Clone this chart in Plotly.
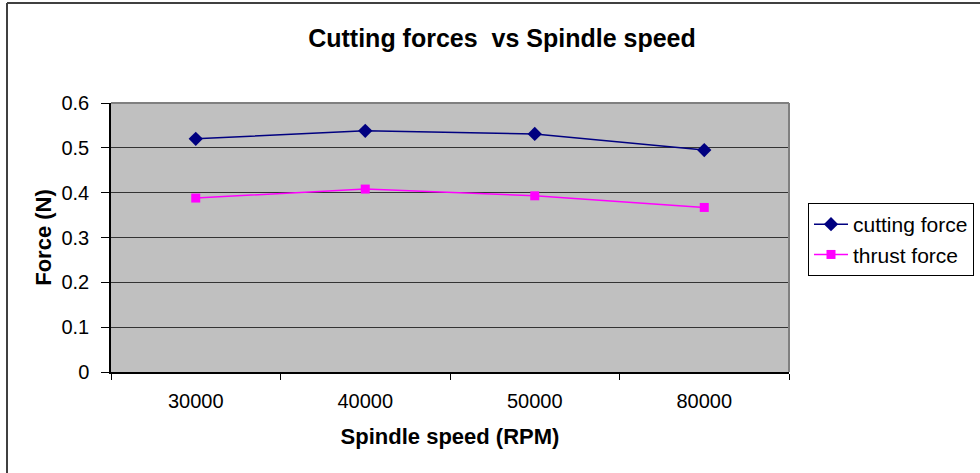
import plotly.graph_objects as go

speeds = ["30000", "40000", "50000", "80000"]
cutting_force = [0.520, 0.538, 0.531, 0.495]
thrust_force = [0.388, 0.408, 0.393, 0.367]
y_ticks = [0, 0.1, 0.2, 0.3, 0.4, 0.5, 0.6]
y_labels = ["0", "0.1", "0.2", "0.3", "0.4", "0.5", "0.6"]

FONT = "Liberation Sans, Arial, sans-serif"

fig = go.Figure()
fig.add_trace(go.Scatter(
    x=speeds, y=cutting_force, name="cutting force", mode="lines+markers",
    line=dict(color="#000080", width=1.5),
    marker=dict(symbol="diamond", size=11, color="#000080"),
))
fig.add_trace(go.Scatter(
    x=speeds, y=thrust_force, name="thrust force", mode="lines+markers",
    line=dict(color="#FF00FF", width=1.5),
    marker=dict(symbol="square", size=9, color="#FF00FF"),
))

L, R, T, B = 111, 191, 103, 101
W, H = 980, 473
pw, ph = W - L - R, H - T - B

fig.update_layout(
    width=W, height=H,
    margin=dict(l=L, r=R, t=T, b=B, pad=0, autoexpand=False),
    paper_bgcolor="white", plot_bgcolor="#C0C0C0",
    font=dict(family=FONT, size=20, color="black"),
    title=dict(text="<b>Cutting forces  vs Spindle speed</b>", x=(502 - L) / pw, xref="paper",
               xanchor="center", y=1 - 38 / H, yanchor="middle", font=dict(size=25, family=FONT)),
    showlegend=True,
    legend=dict(x=(808 - L) / pw, y=(H - B - 203) / ph,
                xanchor="left", yanchor="top", bordercolor="black", borderwidth=1,
                bgcolor="white", font=dict(size=21, family=FONT),
                tracegroupgap=0, itemwidth=34),
    xaxis=dict(
        type="category", range=[-0.5, 3.5], tickson="boundaries",
        ticks="outside", ticklen=6, tickcolor="black", tickwidth=1,
        ticklabelstandoff=10,
        showline=True, linecolor="black", linewidth=1.5,
        showgrid=False, zeroline=False,
        tickfont=dict(size=20, family=FONT),
        title=dict(text="<b>Spindle speed (RPM)</b>", font=dict(size=22, family=FONT), standoff=18),
    ),
    yaxis=dict(
        range=[0, 0.6], tickvals=y_ticks, ticktext=y_labels,
        ticks="outside", ticklen=8, tickcolor="black", tickwidth=1,
        ticklabelstandoff=8,
        showline=True, linecolor="black", linewidth=1.5,
        showgrid=True, gridcolor="#333333", gridwidth=1, zeroline=False,
        tickfont=dict(size=20, family=FONT),
        title=dict(text="<b>Force (N)</b>", font=dict(size=22, family=FONT), standoff=4),
    ),
)

# plot area top/right grey border
fig.add_shape(type="line", xref="paper", yref="paper", x0=0, x1=1, y0=1, y1=1,
              line=dict(color="#808080", width=2), layer="above")
fig.add_shape(type="line", xref="paper", yref="paper", x0=1, x1=1, y0=0, y1=1,
              line=dict(color="#808080", width=2), layer="above")
# outer chart border (left and top visible)
fig.add_shape(type="line", xref="paper", yref="paper",
              x0=(7 - L) / pw, x1=(7 - L) / pw, y0=(H - B - 480) / ph, y1=(H - B - 3) / ph,
              line=dict(color="#404040", width=2), layer="above")
fig.add_shape(type="line", xref="paper", yref="paper",
              x0=(7 - L) / pw, x1=(1000 - L) / pw, y0=(H - B - 3) / ph, y1=(H - B - 3) / ph,
              line=dict(color="#404040", width=2), layer="above")

fig.write_html("out.html")
